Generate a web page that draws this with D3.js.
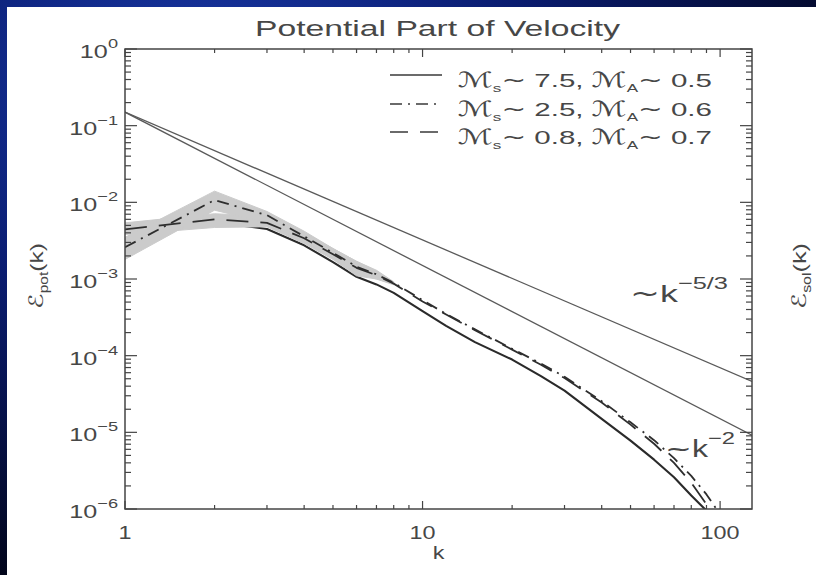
<!DOCTYPE html>
<html>
<head>
<meta charset="utf-8">
<script src="https://cdn.jsdelivr.net/npm/d3@7"></script>
<style>
  html, body { margin: 0; padding: 0; background: #020a30; }
  svg { display: block; }
  text { font-family: "Liberation Sans", "DejaVu Sans", sans-serif; fill: #474747; }
</style>
</head>
<body>
<svg id="chart" width="816" height="575"></svg>
<script>
// ---------- data ----------
const titleText = "Potential Part of Velocity";
const xLabel = "k";
const kValues = [1, 2, 3, 4, 5, 6, 7, 8, 10, 12, 15, 20, 25, 30, 40, 50, 60, 70, 80, 90, 100];
// Ms ~ 7.5, MA ~ 0.5  (solid)
const seriesSolid = [4.3e-3, 5.5e-3, 4.5e-3, 2.75e-3, 1.66e-3, 1.07e-3, 8.5e-4, 6.6e-4, 3.8e-4, 2.45e-4, 1.5e-4,
  8.9e-5, 5.4e-5, 3.5e-5, 1.5e-5, 7.8e-6, 4.4e-6, 2.6e-6, 1.5e-6, 9.5e-7, 4.8e-7];
// Ms ~ 2.5, MA ~ 0.6  (dash-dot)
const seriesDashDot = [2.6e-3, 1.07e-2, 6.8e-3, 3.6e-3, 2.2e-3, 1.45e-3, 1.15e-3, 8.9e-4, 5.3e-4, 3.5e-4, 2.2e-4,
  1.23e-4, 7.9e-5, 5.3e-5, 2.55e-5, 1.35e-5, 7.9e-6, 4.6e-6, 2.7e-6, 1.55e-6, 8.5e-7];
// Ms ~ 0.8, MA ~ 0.7  (dashed)
const seriesDashed = [4.45e-3, 6.0e-3, 5.4e-3, 3.4e-3, 2.1e-3, 1.4e-3, 1.12e-3, 8.7e-4, 5.1e-4, 3.45e-4, 2.15e-4,
  1.2e-4, 7.6e-5, 5.1e-5, 2.45e-5, 1.26e-5, 7.1e-6, 4.0e-6, 2.2e-6, 1.15e-6, 5.5e-7];
// shaded spread (low k only)
const bandK = [1, 2, 3, 4, 5, 6, 7, 8];
const bandDashedLo = [3.8e-3, 4.7e-3, 4.8e-3, 2.9e-3, 1.8e-3, 1.1e-3, 1.0e-3, 8.4e-4];
const bandDashedHi = [5.4e-3, 7.1e-3, 6.6e-3, 4.0e-3, 2.5e-3, 1.7e-3, 1.26e-3, 9.0e-4];
const bandDashDotLo = [1.8e-3, 7.9e-3, 5.4e-3, 3.0e-3, 1.9e-3, 1.2e-3, 1.0e-3, 8.6e-4];
const bandDashDotHi = [3.5e-3, 1.4e-2, 7.6e-3, 4.2e-3, 2.5e-3, 1.7e-3, 1.3e-3, 9.2e-4];
// reference power laws
const powerAmp = 0.15;
const powerSlopes = [-5 / 3, -2];
const powerLabels = ["\u22125/3", "\u22122"];
const legendMs = ["7.5", "2.5", "0.8"];
const legendMa = ["0.5", "0.6", "0.7"];
const yTickExps = [0, -1, -2, -3, -4, -5, -6];
const xTicks = [1, 10, 100];
const xTickLabels = ["1", "10", "100"];

// ---------- layout ----------
const svg = d3.select("#chart");
const L = 125, R = 752, T = 49, B = 509;
const x = d3.scaleLog().domain([1, 128]).range([L, R]);
const y = d3.scaleLog().domain([1e-6, 1]).range([B, T]);
const SX = 1.4; // horizontal stretch of the wide plotting font

// background
const defs = svg.append("defs");
const rg = defs.append("radialGradient").attr("id", "bg").attr("cx", "25%").attr("cy", "15%").attr("r", "90%");
rg.append("stop").attr("offset", "0%").attr("stop-color", "#1a3aa8");
rg.append("stop").attr("offset", "45%").attr("stop-color", "#0a1c70");
rg.append("stop").attr("offset", "100%").attr("stop-color", "#010418");
svg.append("rect").attr("width", 816).attr("height", 575).attr("fill", "url(#bg)");
svg.append("rect").attr("x", 7).attr("y", 7).attr("width", 816).attr("height", 575).attr("fill", "#ffffff");

defs.append("clipPath").attr("id", "plotclip").append("rect")
  .attr("x", L).attr("y", T).attr("width", R - L).attr("height", B - T);

const plot = svg.append("g").attr("clip-path", "url(#plotclip)");
const line = d3.line().x((d) => x(d[0])).y((d) => y(d[1]));

// solid series first (partly hidden under the spread at low k)
plot.append("path").attr("d", line(kValues.map((k, i) => [k, seriesSolid[i]])))
  .attr("fill", "none").attr("stroke", "#2a2a2a").attr("stroke-width", 2.1).attr("stroke-linejoin", "round");

// bands
const band = d3.area().x((d) => x(d.k)).y0((d) => y(d.lo)).y1((d) => y(d.hi));
[[bandDashedLo, bandDashedHi], [bandDashDotLo, bandDashDotHi]].forEach(([lo, hi]) => {
  const pts = bandK.map((k, i) => ({ k, lo: lo[i], hi: hi[i] }));
  plot.append("path").attr("d", band(pts)).attr("fill", "#cbcbcb").attr("stroke", "#cbcbcb").attr("stroke-width", 1);
});

// power laws
powerSlopes.forEach((s) => {
  const pts = [[1, powerAmp], [128, powerAmp * Math.pow(128, s)]];
  plot.append("path").attr("d", line(pts)).attr("fill", "none").attr("stroke", "#5a5a5a").attr("stroke-width", 1.3);
});

// other data series
[{ data: seriesDashDot, dash: "12,6,2,6" }, { data: seriesDashed, dash: "22,12" }].forEach((s) => {
  plot.append("path").attr("d", line(kValues.map((k, i) => [k, s.data[i]])))
    .attr("fill", "none").attr("stroke", "#2e2e2e").attr("stroke-width", 1.8)
    .attr("stroke-linejoin", "round").attr("stroke-dasharray", s.dash);
});

// frame
const axisColor = "#444";
svg.append("rect").attr("x", L).attr("y", T).attr("width", R - L).attr("height", B - T)
  .attr("fill", "none").attr("stroke", axisColor).attr("stroke-width", 1.5);

const ticks = svg.append("g").attr("stroke", axisColor).attr("stroke-width", 1.2);
for (let e = -6; e <= 0; e++) {
  const v = Math.pow(10, e);
  ticks.append("line").attr("x1", L).attr("x2", L + 12).attr("y1", y(v)).attr("y2", y(v));
  ticks.append("line").attr("x1", R).attr("x2", R - 12).attr("y1", y(v)).attr("y2", y(v));
  if (e < 0) {
    for (let m = 2; m <= 9; m++) {
      const vv = m * v;
      ticks.append("line").attr("x1", L).attr("x2", L + 6).attr("y1", y(vv)).attr("y2", y(vv));
      ticks.append("line").attr("x1", R).attr("x2", R - 6).attr("y1", y(vv)).attr("y2", y(vv));
    }
  }
}
xTicks.forEach((d) => {
  ticks.append("line").attr("x1", x(d)).attr("x2", x(d)).attr("y1", B).attr("y2", B - 8);
  ticks.append("line").attr("x1", x(d)).attr("x2", x(d)).attr("y1", T).attr("y2", T + 8);
  for (let m = 2; m <= 9; m++) {
    const vv = m * d;
    if (vv > 128) break;
    ticks.append("line").attr("x1", x(vv)).attr("x2", x(vv)).attr("y1", B).attr("y2", B - 4);
    ticks.append("line").attr("x1", x(vv)).attr("x2", x(vv)).attr("y1", T).attr("y2", T + 4);
  }
});

function stretched(px, py, sx) {
  return svg.append("g").attr("transform", `translate(${px},${py}) scale(${sx},1)`).append("text");
}

// y tick labels
yTickExps.forEach((e) => {
  const t = stretched(118, y(Math.pow(10, e)) + 9, SX).attr("text-anchor", "end").attr("font-size", 18);
  t.append("tspan").text("10");
  t.append("tspan").attr("dy", -10).attr("font-size", 13).text(e === 0 ? "0" : "\u2212" + Math.abs(e));
});
// x tick labels
xTicks.forEach((d, i) => {
  stretched(x(d), 539, 1.3).attr("text-anchor", "middle").attr("font-size", 18).text(xTickLabels[i]);
});
stretched(x(Math.sqrt(128)), 559, 1.3).attr("text-anchor", "middle").attr("font-size", 18).text(xLabel);

// title
svg.append("text").attr("x", 255).attr("y", 36).attr("font-size", 22)
  .attr("textLength", 365).attr("lengthAdjust", "spacingAndGlyphs").text(titleText);

// y label
function eLabel(tx, sub) {
  const t = svg.append("text").attr("transform", `translate(${tx},276) rotate(-90)`)
    .attr("text-anchor", "middle").attr("font-size", 19)
    .attr("textLength", 66).attr("lengthAdjust", "spacingAndGlyphs");
  t.append("tspan").attr("font-family", "DejaVu Sans").attr("font-style", "italic").attr("font-size", 20).text("\u2130");
  t.append("tspan").attr("dy", 5).attr("font-size", 12).text(sub);
  t.append("tspan").attr("dy", -5).text("(k)");
}
eLabel(43, "pot");
// neighbouring panel's label, at the right edge
eLabel(806, "sol");

// legend
const legendY = [75, 104, 132];
const legendDash = [null, "12,6,2,6", "18,12"];
legendY.forEach((ly, i) => {
  const l = svg.append("line").attr("x1", 390).attr("x2", 442).attr("y1", ly).attr("y2", ly)
    .attr("stroke", "#3a3a3a").attr("stroke-width", 1.5);
  if (legendDash[i]) l.attr("stroke-dasharray", legendDash[i]);
  const t = svg.append("text").attr("x", 458).attr("y", ly + 12).attr("font-size", 19)
    .attr("textLength", 254).attr("lengthAdjust", "spacingAndGlyphs");
  t.append("tspan").attr("font-family", "DejaVu Sans").attr("font-style", "italic").attr("font-size", 21).text("\u2133");
  t.append("tspan").attr("dy", 5).attr("font-size", 11).text("s");
  t.append("tspan").attr("dy", -5).attr("font-family", "DejaVu Sans").text("~");
  t.append("tspan").text(" " + legendMs[i] + ", ");
  t.append("tspan").attr("font-family", "DejaVu Sans").attr("font-style", "italic").attr("font-size", 21).text("\u2133");
  t.append("tspan").attr("dy", 5).attr("font-size", 11).text("A");
  t.append("tspan").attr("dy", -5).attr("font-family", "DejaVu Sans").text("~");
  t.append("tspan").text(" " + legendMa[i]);
});

// power-law annotations
const ann = [
  { x: 630, y: 302, fs: 24, w: 98, label: powerLabels[0] },
  { x: 665, y: 457, fs: 23, w: 70, label: powerLabels[1] },
];
ann.forEach((a) => {
  const t = svg.append("text").attr("x", a.x).attr("y", a.y).attr("font-size", a.fs)
    .attr("textLength", a.w).attr("lengthAdjust", "spacingAndGlyphs");
  t.append("tspan").attr("font-family", "DejaVu Sans").text("~");
  t.append("tspan").text("k");
  t.append("tspan").attr("dy", -13).attr("font-size", 17).text(a.label);
});
</script>
</body>
</html>
